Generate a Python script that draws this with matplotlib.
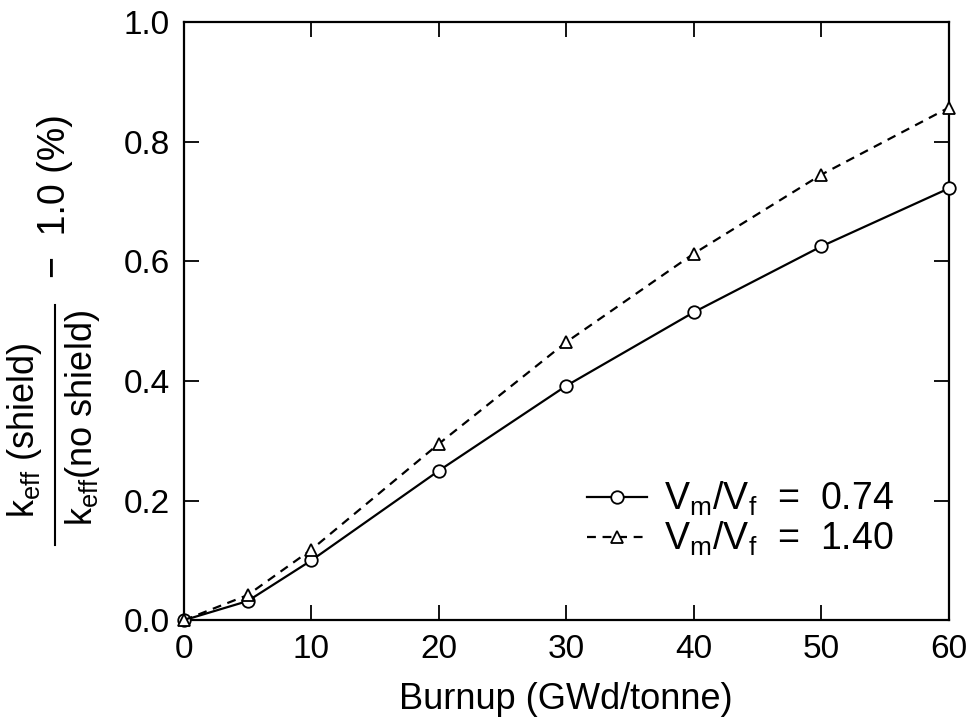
import numpy as np
import matplotlib
matplotlib.use('Agg')
import matplotlib.pyplot as plt
from matplotlib.lines import Line2D

plt.rcParams['font.family'] = 'Liberation Sans'
plt.rcParams['mathtext.fontset'] = 'custom'
plt.rcParams['mathtext.rm'] = 'Liberation Sans'
plt.rcParams['mathtext.it'] = 'Liberation Sans:italic'

burnup = [0, 5, 10, 20, 30, 40, 50, 60]
ratio_074 = [0.0, 0.032, 0.100, 0.250, 0.392, 0.515, 0.625, 0.722]
ratio_140 = [0.0, 0.042, 0.118, 0.295, 0.465, 0.613, 0.745, 0.857]
labels = [r'$\mathrm{V_m/V_f}$  =  0.74', r'$\mathrm{V_m/V_f}$  =  1.40']

fig = plt.figure(figsize=(9.73, 7.17), dpi=100)
ax = fig.add_axes([0.189, 0.135, 0.786, 0.834])

ax.plot(burnup, ratio_074, color='k', linestyle='-', linewidth=1.6,
        marker='o', markersize=9, markerfacecolor='white', markeredgewidth=1.3,
        label=labels[0], clip_on=False, zorder=3)
ax.plot(burnup, ratio_140, color='k', linestyle=(0, (4, 3)), linewidth=1.6,
        marker='^', markersize=9, markerfacecolor='white', markeredgewidth=1.3,
        label=labels[1], clip_on=False, zorder=3)

ax.set_xlim(0, 60)
ax.set_ylim(0, 1.0)
ax.set_xticks([0, 10, 20, 30, 40, 50, 60])
ax.set_yticks([0.0, 0.2, 0.4, 0.6, 0.8, 1.0])
ax.set_yticklabels(['0.0', '0.2', '0.4', '0.6', '0.8', '1.0'])

ax.tick_params(axis='both', which='major', direction='in', length=11, width=1.3,
               top=True, right=True, labelsize=24, pad=10)
for s in ax.spines.values():
    s.set_linewidth(1.6)

ax.set_xlabel('Burnup (GWd/tonne)', fontsize=26, labelpad=12)

# y label drawn as a stacked fraction
fig.text(25 / 973, 0.400, r'$\mathrm{k_{eff}}$ (shield)', rotation=90,
         ha='center', va='center', fontsize=26)
fig.text(83 / 973, 0.417, r'$\mathrm{k_{eff}}$(no shield)', rotation=90,
         ha='center', va='center', fontsize=26)
fig.add_artist(Line2D([55 / 973, 55 / 973], [0.240, 0.575], color='k',
                      linewidth=1.5, transform=fig.transFigure))
fig.text(55 / 973, 0.727, '\u2212  1.0 (%)', rotation=90,
         ha='center', va='center', fontsize=27)

ax.legend(loc='center left', bbox_to_anchor=(568 / 973, 0.276),
          bbox_transform=fig.transFigure, frameon=False, borderpad=0,
          fontsize=27, handlelength=1.6, handletextpad=0.45, labelspacing=0.05)

fig.savefig('out.png', dpi=100)
